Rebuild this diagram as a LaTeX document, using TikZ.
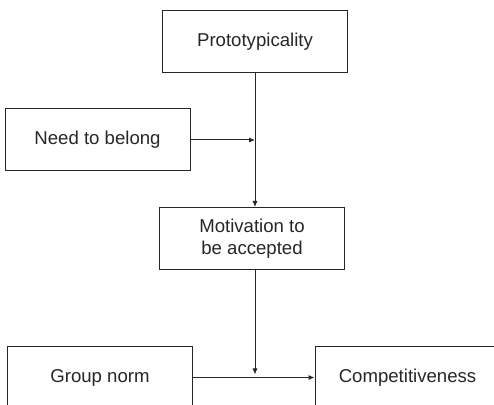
\documentclass[tikz,border=0pt]{standalone}
\usepackage{fontspec}
\setmainfont{Liberation Sans}
\usepackage{tikz}
\usetikzlibrary{arrows.meta}

\tikzset{
  box/.style={draw, line width=0.5pt, minimum width=92.5pt, minimum height=31pt,
              align=center, inner sep=0pt, text=black!85,
              font=\fontsize{9.3}{11}\selectfont},
  link/.style={line width=0.5pt, -{Latex[length=3pt,width=2.6pt]}}
}

\begin{document}
\begin{tikzpicture}[x=0.5pt,y=-0.5pt,draw=black!85]

\useasboundingbox (0,0) rectangle (494,405);
\clip (0,0) rectangle (494,405);

\node[box] (proto)  at (255,42)    {Prototypicality};
\node[box] (belong) at (97.5,140)  {Need to belong};
\node[box] (motiv)  at (252,238.5) {Motivation to\\be accepted};
\node[box] (norm)   at (100,377.5) {Group norm};
\node[box] (compet) at (407.5,377.5) {Competitiveness};

% junctions on the vertical lines
\coordinate (j1) at (proto.south |- belong.east);
\coordinate (j2) at (proto.south |- norm.east);

\draw[link] (proto.south) -- (proto.south |- motiv.north);
\draw[link] (belong.east) -- (j1);
\draw[link] (norm.east) -- (compet.west);
\draw[link] (j2 |- motiv.south) -- ([yshift=1.5pt]j2);

\end{tikzpicture}
\end{document}
